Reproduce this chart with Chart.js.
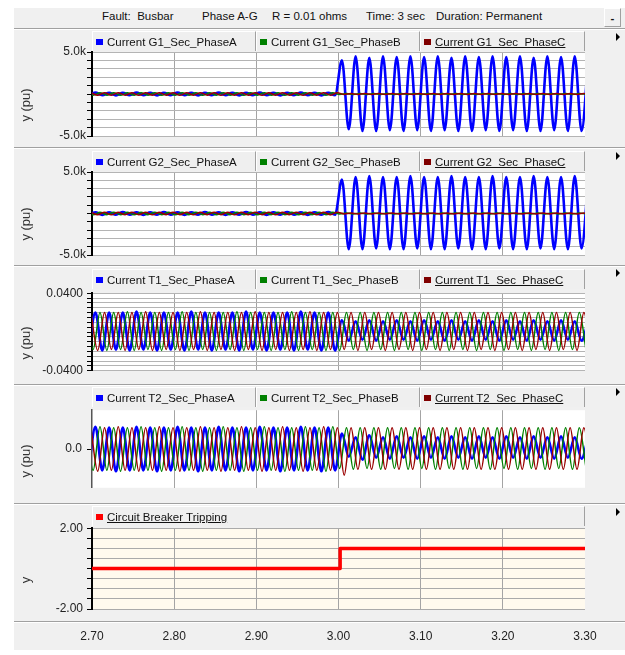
<!DOCTYPE html>
<html>
<head>
<meta charset="utf-8">
<script src="https://cdn.jsdelivr.net/npm/chart.js@4/dist/chart.umd.min.js"></script>
<style>
html,body{margin:0;padding:0;background:#fff;width:625px;height:655px;overflow:hidden;font-family:"Liberation Sans",Arial,sans-serif;font-size:11.5px;color:#111;}
#frame{position:absolute;left:14px;top:8px;width:611px;height:642px;background:#f0f0f0;}
.sep{position:absolute;left:14px;width:611px;height:1px;background:#a0a0a0;border-bottom:1px solid #fff;}
.hdr{position:absolute;top:9px;line-height:14px;white-space:nowrap;}
#minbtn{position:absolute;left:604px;top:8px;width:17px;height:19px;box-sizing:border-box;border-left:1px solid #fff;border-top:1px solid #fff;border-right:1px solid #a0a0a0;border-bottom:1px solid #a0a0a0;text-align:center;line-height:18px;font-weight:bold;}
canvas{position:absolute;left:0;}
.legend{position:absolute;left:92px;width:493px;height:20px;display:flex;z-index:2;}
.cell{box-sizing:border-box;height:20px;border-left:1px solid #fff;border-top:1px solid #fff;border-right:1px solid #a0a0a0;position:relative;white-space:nowrap;background:#efefef;}
.mk{position:absolute;left:3px;top:7px;width:7px;height:6px;}
.lt{position:absolute;left:14px;top:0;line-height:20px;}
.u{text-decoration:underline;}
.ytitle{position:absolute;left:25px;transform:translate(-50%,-50%) rotate(-90deg);font-size:13px;color:#333;white-space:nowrap;z-index:2;}
.arrow{position:absolute;left:616px;width:0;height:0;border-top:4px solid transparent;border-bottom:4px solid transparent;border-left:4px solid #000;z-index:2;}
</style>
</head>
<body>
<div id="frame"></div>
<div class="hdr" style="left:102px">Fault:&nbsp; Busbar</div>
<div class="hdr" style="left:202px">Phase A-G</div>
<div class="hdr" style="left:272px">R = 0.01 ohms</div>
<div class="hdr" style="left:366px">Time: 3 sec</div>
<div class="hdr" style="left:436px">Duration: Permanent</div>
<div id="minbtn">-</div>
<div class="sep" style="top:28px"></div>
<div class="sep" style="top:147px"></div>
<div class="sep" style="top:265px"></div>
<div class="sep" style="top:384px"></div>
<div class="sep" style="top:503px"></div>
<div class="sep" style="top:621px"></div>

<canvas id="c1" width="625" height="104" style="top:42px"></canvas>
<canvas id="c2" width="625" height="103" style="top:162px"></canvas>
<canvas id="c3" width="625" height="100" style="top:282px"></canvas>
<canvas id="c4" width="625" height="102" style="top:398px"></canvas>
<canvas id="c5" width="625" height="132" style="top:517px"></canvas>

<script>
// ---------------- DATA ----------------
const xTickValues = [2.70, 2.80, 2.90, 3.00, 3.10, 3.20, 3.30];
const xTickLabels = ['2.70', '2.80', '2.90', '3.00', '3.10', '3.20', '3.30'];

// 60 Hz waveforms: values are the successive peaks/troughs (one per half cycle)
const HALF_CYCLE = 1 / 120;
const firstExtremeA = 2.695833, firstExtremeB = 2.693056, firstExtremeC = 2.698611;

// Panel 1 : G1 secondary currents (in k)
const g1Names = ['Current G1_Sec_PhaseA', 'Current G1_Sec_PhaseB', 'Current G1_Sec_PhaseC'];
const g1A_pre = [-0.15,0.16,-0.15,0.15,-0.16,0.15,-0.15,0.16,-0.15,0.15,
                 -0.16,0.15,-0.15,0.16,-0.15,0.15,-0.16,0.15,-0.15,0.16,
                 -0.15,0.15,-0.16,0.15,-0.15,0.16,-0.15,0.15,-0.16,0.15,
                 -0.15,0.16,-0.15,0.15,-0.16,0.15,-0.15];
const g1A_post = [4.0,-4.2,4.5,-4.4,4.3,-4.4,4.5,-4.3,4.4,-4.4,
                  4.5,-4.3,4.4,-4.4,4.5,-4.3,4.3,-4.4,4.5,-4.4,
                  4.4,-4.3,4.5,-4.4,4.4,-4.3,4.5,-4.4,4.3,-4.4,
                  4.5,-4.3,4.4,-4.4,4.5,-4.4,4.4];
const g1B_pre = [0.15,-0.15,0.16,-0.15,0.15,-0.16,0.15,-0.15,0.16,-0.15,
                 0.15,-0.16,0.15,-0.15,0.16,-0.15,0.15,-0.16,0.15,-0.15,
                 0.16,-0.15,0.15,-0.16,0.15,-0.15,0.16,-0.15,0.15,-0.16,
                 0.15,-0.15,0.16,-0.15,0.15,-0.16,0.15];
const g1B_post = [-0.05,0.05,-0.05,0.05,-0.05,0.05,-0.05,0.05,-0.05,0.05,
                  -0.05,0.05,-0.05,0.05,-0.05,0.05,-0.05,0.05,-0.05,0.05,
                  -0.05,0.05,-0.05,0.05,-0.05,0.05,-0.05,0.05,-0.05,0.05,
                  -0.05,0.05,-0.05,0.05,-0.05,0.05,-0.05];
const g1C_pre = [0.16,-0.15,0.15,-0.15,0.16,-0.15,0.15,-0.16,0.15,-0.15,
                 0.16,-0.15,0.15,-0.16,0.15,-0.15,0.16,-0.15,0.15,-0.16,
                 0.15,-0.15,0.16,-0.15,0.15,-0.16,0.15,-0.15,0.16,-0.15,
                 0.15,-0.16,0.15,-0.15,0.16,-0.15,0.15];
const g1C_post = [-0.05,0.05,-0.05,0.05,-0.05,0.05,-0.05,0.05,-0.05,0.05,
                  -0.05,0.05,-0.05,0.05,-0.05,0.05,-0.05,0.05,-0.05,0.05,
                  -0.05,0.05,-0.05,0.05,-0.05,0.05,-0.05,0.05,-0.05,0.05,
                  -0.05,0.05,-0.05,0.05,-0.05,0.05,-0.05];

// Panel 2 : G2 secondary currents (in k)
const g2Names = ['Current G2_Sec_PhaseA', 'Current G2_Sec_PhaseB', 'Current G2_Sec_PhaseC'];
const g2A_pre = [-0.15,0.15,-0.16,0.15,-0.15,0.16,-0.15,0.15,-0.16,0.15,
                 -0.15,0.16,-0.15,0.15,-0.16,0.15,-0.15,0.16,-0.15,0.15,
                 -0.16,0.15,-0.15,0.16,-0.15,0.15,-0.16,0.15,-0.15,0.16,
                 -0.15,0.15,-0.16,0.15,-0.15,0.16,-0.15];
const g2A_post = [4.1,-4.3,4.4,-4.3,4.5,-4.2,4.4,-4.3,4.4,-4.3,
                  4.5,-4.2,4.4,-4.3,4.4,-4.3,4.5,-4.2,4.4,-4.3,
                  4.4,-4.3,4.5,-4.2,4.4,-4.3,4.4,-4.3,4.5,-4.2,
                  4.4,-4.3,4.4,-4.3,4.5,-4.2,4.4];
const g2B_pre = [0.15,-0.16,0.15,-0.15,0.16,-0.15,0.15,-0.16,0.15,-0.15,
                 0.16,-0.15,0.15,-0.16,0.15,-0.15,0.16,-0.15,0.15,-0.16,
                 0.15,-0.15,0.16,-0.15,0.15,-0.16,0.15,-0.15,0.16,-0.15,
                 0.15,-0.16,0.15,-0.15,0.16,-0.15,0.15];
const g2B_post = [-0.05,0.05,-0.05,0.05,-0.05,0.05,-0.05,0.05,-0.05,0.05,
                  -0.05,0.05,-0.05,0.05,-0.05,0.05,-0.05,0.05,-0.05,0.05,
                  -0.05,0.05,-0.05,0.05,-0.05,0.05,-0.05,0.05,-0.05,0.05,
                  -0.05,0.05,-0.05,0.05,-0.05,0.05,-0.05];
const g2C_pre = [0.15,-0.15,0.15,-0.16,0.15,-0.15,0.16,-0.15,0.15,-0.16,
                 0.15,-0.15,0.16,-0.15,0.15,-0.16,0.15,-0.15,0.16,-0.15,
                 0.15,-0.16,0.15,-0.15,0.16,-0.15,0.15,-0.16,0.15,-0.15,
                 0.16,-0.15,0.15,-0.16,0.15,-0.15,0.16];
const g2C_post = [-0.05,0.05,-0.05,0.05,-0.05,0.05,-0.05,0.05,-0.05,0.05,
                  -0.05,0.05,-0.05,0.05,-0.05,0.05,-0.05,0.05,-0.05,0.05,
                  -0.05,0.05,-0.05,0.05,-0.05,0.05,-0.05,0.05,-0.05,0.05,
                  -0.05,0.05,-0.05,0.05,-0.05,0.05,-0.05];

// Panel 3 : T1 secondary currents (pu)
const t1Names = ['Current T1_Sec_PhaseA', 'Current T1_Sec_PhaseB', 'Current T1_Sec_PhaseC'];
const t1A_pre = [-0.018,0.020,-0.019,0.020,-0.018,0.020,-0.019,0.021,-0.018,0.020,
                 -0.019,0.020,-0.018,0.020,-0.019,0.021,-0.018,0.020,-0.019,0.020,
                 -0.018,0.020,-0.019,0.021,-0.018,0.020,-0.019,0.020,-0.018,0.020,
                 -0.019,0.021,-0.018,0.020,-0.019,0.020,-0.019];
const t1A_post = [0.012,-0.009,0.011,-0.008,0.012,-0.009,0.011,-0.008,0.012,-0.008,
                  0.011,-0.009,0.012,-0.008,0.011,-0.009,0.012,-0.008,0.011,-0.009,
                  0.012,-0.008,0.011,-0.009,0.012,-0.008,0.011,-0.009,0.012,-0.008,
                  0.011,-0.009,0.012,-0.008,0.011,-0.009,0.012];
const t1B_pre = [0.020,-0.018,0.020,-0.019,0.020,-0.018,0.021,-0.019,0.020,-0.018,
                 0.020,-0.019,0.020,-0.018,0.021,-0.019,0.020,-0.018,0.020,-0.019,
                 0.020,-0.018,0.021,-0.019,0.020,-0.018,0.020,-0.019,0.020,-0.018,
                 0.021,-0.019,0.020,-0.018,0.020,-0.019,0.020];
const t1B_post = [-0.019,0.020,-0.018,0.020,-0.019,0.020,-0.018,0.020,-0.019,0.020,
                  -0.018,0.020,-0.019,0.020,-0.018,0.020,-0.019,0.020,-0.018,0.020,
                  -0.019,0.020,-0.018,0.020,-0.019,0.020,-0.018,0.020,-0.019,0.020,
                  -0.018,0.020,-0.019,0.020,-0.018,0.020,-0.019];
const t1C_pre = [0.020,-0.019,0.020,-0.018,0.020,-0.019,0.020,-0.018,0.021,-0.019,
                 0.020,-0.018,0.020,-0.019,0.020,-0.018,0.021,-0.019,0.020,-0.018,
                 0.020,-0.019,0.020,-0.018,0.021,-0.019,0.020,-0.018,0.020,-0.019,
                 0.020,-0.018,0.021,-0.019,0.020,-0.018,0.020];
const t1C_post = [-0.018,0.020,-0.019,0.020,-0.018,0.020,-0.019,0.020,-0.018,0.020,
                  -0.019,0.020,-0.018,0.020,-0.019,0.020,-0.018,0.020,-0.019,0.020,
                  -0.018,0.020,-0.019,0.020,-0.018,0.020,-0.019,0.020,-0.018,0.020,
                  -0.019,0.020,-0.018,0.020,-0.019,0.020,-0.018];

// Panel 4 : T2 secondary currents (pu)
const t2Names = ['Current T2_Sec_PhaseA', 'Current T2_Sec_PhaseB', 'Current T2_Sec_PhaseC'];
const t2A_pre = [-0.022,0.023,-0.022,0.022,-0.023,0.022,-0.022,0.023,-0.022,0.022,
                 -0.023,0.022,-0.022,0.023,-0.022,0.022,-0.023,0.022,-0.022,0.023,
                 -0.022,0.022,-0.023,0.022,-0.022,0.023,-0.022,0.022,-0.023,0.022,
                 -0.022,0.023,-0.022,0.022,-0.023,0.022,-0.022];
const t2A_post = [0.016,-0.008,0.012,-0.011,0.014,-0.009,0.012,-0.010,0.013,-0.009,
                  0.012,-0.010,0.013,-0.009,0.012,-0.010,0.013,-0.009,0.012,-0.010,
                  0.013,-0.009,0.012,-0.010,0.013,-0.009,0.012,-0.010,0.013,-0.009,
                  0.012,-0.010,0.013,-0.009,0.012,-0.010,0.013];
const t2B_pre = [0.022,-0.022,0.023,-0.022,0.022,-0.023,0.022,-0.022,0.023,-0.022,
                 0.022,-0.023,0.022,-0.022,0.023,-0.022,0.022,-0.023,0.022,-0.022,
                 0.023,-0.022,0.022,-0.023,0.022,-0.022,0.023,-0.022,0.022,-0.023,
                 0.022,-0.022,0.023,-0.022,0.022,-0.023,0.023];
const t2B_post = [-0.020,0.022,-0.021,0.022,-0.020,0.022,-0.021,0.022,-0.020,0.022,
                  -0.021,0.022,-0.020,0.022,-0.021,0.022,-0.020,0.022,-0.021,0.022,
                  -0.020,0.022,-0.021,0.022,-0.020,0.022,-0.021,0.022,-0.020,0.022,
                  -0.021,0.022,-0.020,0.022,-0.021,0.022,-0.020];
const t2C_pre = [0.022,-0.023,0.022,-0.022,0.023,-0.022,0.022,-0.023,0.022,-0.022,
                 0.023,-0.022,0.022,-0.023,0.022,-0.022,0.023,-0.022,0.022,-0.023,
                 0.022,-0.022,0.023,-0.022,0.022,-0.023,0.022,-0.022,0.023,-0.022,
                 0.022,-0.023,0.022,-0.022,0.023,-0.022,0.022];
const t2C_post = [-0.027,0.022,-0.021,0.022,-0.021,0.022,-0.021,0.022,-0.021,0.022,
                  -0.021,0.022,-0.021,0.022,-0.021,0.022,-0.021,0.022,-0.021,0.022,
                  -0.021,0.022,-0.021,0.022,-0.021,0.022,-0.021,0.022,-0.021,0.022,
                  -0.021,0.022,-0.021,0.022,-0.021,0.022,-0.021];

// Panel 5 : circuit breaker signal
const cbName = 'Circuit Breaker Tripping';
const cbTimes  = [2.70, 3.002, 3.30];
const cbValues = [0, 1, 1];

// Y tick values & labels
const kTickValues = [-5,-4,-3,-2,-1,0,1,2,3,4,5];
const kTickLabels = ['-5.0k','','','','','','','','','','5.0k'];
const t1TickValues = [-0.04,-0.035,-0.03,-0.025,-0.02,-0.015,-0.01,-0.005,0,0.005,0.01,0.015,0.02,0.025,0.03,0.035,0.04];
const t1TickLabels = ['-0.0400','','','','','','','','','','','','','','','','0.0400'];
const t2TickValues = [0];
const t2TickLabels = ['0.0'];
const cbTickValues = [-2,-1.5,-1,-0.5,0,0.5,1,1.5,2];
const cbTickLabels = ['-2.00','','','','','','','','2.00'];

// ---------------- RENDERING ----------------
const COLORS = ['#0000ff', '#008000', '#990000'];
const MARKERS = ['#0000ff', '#008000', '#800000'];
Chart.defaults.font.family = '"Liberation Sans", Arial, sans-serif';
Chart.defaults.font.size = 12;

function pts(start, pre, post) {
  return pre.concat(post).map((v, i) => ({x: start + i * HALF_CYCLE, y: v}));
}

const plotBg = {
  id: 'plotBg',
  beforeDraw(chart, args, opts) {
    const {ctx, chartArea: a} = chart;
    ctx.save();
    ctx.fillStyle = opts.color || '#fff';
    ctx.fillRect(a.left, a.top, a.right - a.left, a.bottom - a.top);
    ctx.restore();
  }
};

function xGridColor(c) {
  if (c.tick && (c.tick.value < 2.7001 || c.tick.value > 3.2999)) return 'rgba(0,0,0,0)';
  return '#a4a4a4';
}

function waveDatasets(names, a, b, c) {
  return [
    {label: names[2], data: c, borderColor: COLORS[2], borderWidth: 1.5, order: 0},
    {label: names[1], data: b, borderColor: COLORS[1], borderWidth: 1.5, order: 1},
    {label: names[0], data: a, borderColor: COLORS[0], borderWidth: 2.6, order: 2}
  ];
}

function makeChart(id, datasets, y, opts) {
  opts = opts || {};
  const last = !!opts.lastPanel;
  return new Chart(document.getElementById(id), {
    type: 'line',
    data: {datasets},
    plugins: [plotBg],
    options: {
      responsive: false, animation: false, events: [],
      layout: {padding: {left: 0, right: 40, top: 10, bottom: last ? 0 : 10}},
      plugins: {legend: {display: false}, tooltip: {enabled: false}, plotBg: {color: opts.bg || '#ffffff'}},
      elements: {point: {radius: 0}, line: {cubicInterpolationMode: 'monotone', fill: false, borderJoinStyle: 'round'}},
      scales: {
        x: {
          type: 'linear', min: 2.7, max: 3.3,
          afterBuildTicks: s => { s.ticks = xTickValues.map(v => ({value: v})); },
          afterFit: s => { s.height = last ? 40 : 0; },
          ticks: {display: last, autoSkip: false, maxRotation: 0, padding: 20, color: '#222',
                  callback: (v, i) => xTickLabels[i]},
          grid: {color: xGridColor, drawTicks: false, lineWidth: 1},
          border: {display: false}
        },
        y: Object.assign({
          type: 'linear',
          afterFit: s => { s.width = 92; },
          border: {color: '#000', width: 2}
        }, y)
      }
    }
  });
}

function yAxis(min, max, tv, tl, extra) {
  return Object.assign({
    min, max,
    afterBuildTicks: s => { s.ticks = tv.map(v => ({value: v})); },
    ticks: {autoSkip: false, padding: 2, color: '#222', callback: (v, i) => tl[i]},
    grid: {color: '#b4b4b4', tickColor: '#000', tickLength: 5, lineWidth: 1}
  }, extra || {});
}

makeChart('c1', waveDatasets(g1Names,
  pts(firstExtremeA, g1A_pre, g1A_post), pts(firstExtremeB, g1B_pre, g1B_post), pts(firstExtremeC, g1C_pre, g1C_post)),
  yAxis(-5, 5, kTickValues, kTickLabels, {ticks: {autoSkip: false, padding: 1, color: '#222', callback: (v, i) => kTickLabels[i]}}));

makeChart('c2', waveDatasets(g2Names,
  pts(firstExtremeA, g2A_pre, g2A_post), pts(firstExtremeB, g2B_pre, g2B_post), pts(firstExtremeC, g2C_pre, g2C_post)),
  yAxis(-5, 5, kTickValues, kTickLabels, {ticks: {autoSkip: false, padding: 1, color: '#222', callback: (v, i) => kTickLabels[i]}}));

makeChart('c3', waveDatasets(t1Names,
  pts(firstExtremeA, t1A_pre, t1A_post), pts(firstExtremeB, t1B_pre, t1B_post), pts(firstExtremeC, t1C_pre, t1C_post)),
  yAxis(-0.04, 0.04, t1TickValues, t1TickLabels, {ticks: {autoSkip: false, padding: 4, color: '#222', callback: (v, i) => t1TickLabels[i]}}));

makeChart('c4', waveDatasets(t2Names,
  pts(firstExtremeA, t2A_pre, t2A_post), pts(firstExtremeB, t2B_pre, t2B_post), pts(firstExtremeC, t2C_pre, t2C_post)),
  yAxis(-0.04, 0.04, t2TickValues, t2TickLabels, {
    ticks: {autoSkip: false, padding: 5, color: '#222', callback: (v, i) => t2TickLabels[i]},
    grid: {drawOnChartArea: false, tickColor: '#000', tickLength: 5},
    border: {color: '#555', width: 1.5}
  }));

makeChart('c5', [{
    label: cbName,
    data: cbTimes.map((t, i) => ({x: t, y: cbValues[i]})),
    borderColor: '#ff0000', borderWidth: 3.5, stepped: true, cubicInterpolationMode: 'default'
  }],
  yAxis(-2, 2, cbTickValues, cbTickLabels, {ticks: {autoSkip: false, padding: 4, color: '#222', callback: (v, i) => cbTickLabels[i]},
    grid: {color: '#aaaaaa', tickColor: '#000', tickLength: 5}}),
  {lastPanel: true, bg: '#fffaee'});

// ---------------- HTML legends / titles ----------------
function addLegend(top, names, colors, underlineLast) {
  const bar = document.createElement('div');
  bar.className = 'legend';
  bar.style.top = top + 'px';
  const w = names.length === 1 ? [493] : [164, 164, 165];
  names.forEach((n, i) => {
    const cell = document.createElement('div');
    cell.className = 'cell';
    cell.style.width = w[i] + 'px';
    const mk = document.createElement('span');
    mk.className = 'mk'; mk.style.background = colors[i];
    const lt = document.createElement('span');
    lt.className = 'lt' + (underlineLast && i === names.length - 1 ? ' u' : '');
    lt.textContent = n;
    cell.appendChild(mk); cell.appendChild(lt);
    bar.appendChild(cell);
  });
  document.body.appendChild(bar);
}
function addTitle(cy, text) {
  const d = document.createElement('div');
  d.className = 'ytitle'; d.style.top = cy + 'px'; d.textContent = text;
  document.body.appendChild(d);
}
function addArrow(cy) {
  const d = document.createElement('div');
  d.className = 'arrow'; d.style.top = (cy - 4) + 'px';
  document.body.appendChild(d);
}
addLegend(31, g1Names, MARKERS, true);
addLegend(151, g2Names, MARKERS, true);
addLegend(269, t1Names, MARKERS, true);
addLegend(387, t2Names, MARKERS, true);
addLegend(506, [cbName], ['#ff0000'], true);
[[105, 'y (pu)'], [224, 'y (pu)'], [343, 'y (pu)'], [461, 'y (pu)'], [580, 'y']].forEach(t => addTitle(t[0], t[1]));
[37, 156, 273, 392, 512].forEach(addArrow);
</script>
</body>
</html>
